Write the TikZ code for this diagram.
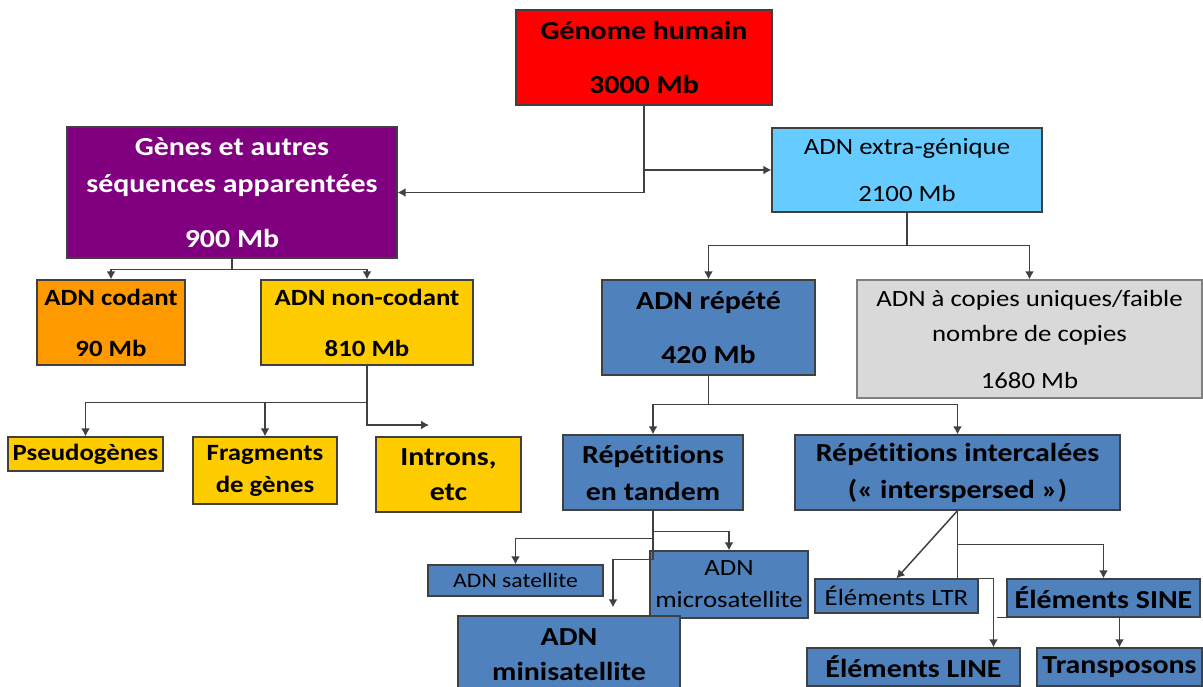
\documentclass[tikz,border=0pt]{standalone}
\usepackage{fontspec}
\setmainfont[FakeStretch=1.15,Ligatures=NoCommon]{Carlito}
\usetikzlibrary{arrows.meta,positioning}

\definecolor{rouge}{HTML}{FF0000}
\definecolor{ciel}{HTML}{66CCFF}
\definecolor{pourpre}{HTML}{800080}
\definecolor{orange2}{HTML}{FF9900}
\definecolor{jaune}{HTML}{FFCC00}
\definecolor{bleu}{HTML}{4F81BD}
\definecolor{gris}{HTML}{D9D9D9}

\begin{document}
\begin{tikzpicture}[x=1pt,y=-1pt,>={Latex[length=8pt,width=9pt]},
  box/.style={draw=black!75,line width=1.3pt,inner sep=0pt,align=center,text=black},
  bigtxt/.style={font=\fontsize{26}{35}\selectfont\bfseries},
  medtxt/.style={font=\fontsize{23.3}{32}\selectfont\bfseries},
  regtxt/.style={font=\fontsize{23.3}{32}\selectfont},
  smalltxt/.style={font=\fontsize{20.6}{28}\selectfont},
  link/.style={->,draw=black!75,line width=1.5pt}]

    \useasboundingbox (0,0) rectangle (1203,686);

    % The boxes
	\node [box,fill=rouge,bigtxt,minimum width=256,minimum height=95] at (644,57.5) (genome) {Génome humain\\[19pt]3000 Mb};
	\node [box,fill=ciel,regtxt,minimum width=270,minimum height=84] at (907,170) (extra) {ADN extra-génique\\[15pt]2100 Mb};
	\node [box,fill=pourpre,bigtxt,text=white,minimum width=330,minimum height=131] at (232,192.5) (genes) {Gènes et autres\\[2pt]séquences apparentées\\[20pt]900 Mb};

	\node [box,fill=orange2,medtxt,minimum width=148,minimum height=85] at (111,322.5) (codant) {ADN codant\\[19pt]90 Mb};
	\node [box,fill=jaune,medtxt,minimum width=212,minimum height=85] at (367,322.5) (noncodant) {ADN non-codant\\[19pt]810 Mb};
	\node [box,fill=jaune,medtxt,minimum width=155,minimum height=34] at (85.5,454) (pseudo) {Pseudogènes};
	\node [box,fill=jaune,medtxt,minimum width=144,minimum height=67] at (265,470.5) (fragments) {Fragments\\de gènes};
	\node [box,fill=jaune,bigtxt,minimum width=145,minimum height=75] at (448.5,474.5) (introns) {Introns,\\etc};
	\coordinate (intr) at (429,425);

	\node [box,fill=bleu,bigtxt,minimum width=213,minimum height=95] at (708.5,327.5) (repete) {ADN répété\\[19pt]420 Mb};
	\node [box,fill=gris,draw=black!50,regtxt,minimum width=345,minimum height=118] at (1029.5,339) (copies) {ADN à copies uniques/faible\\[3pt]nombre de copies\\[15pt]1680 Mb};

	\node [box,fill=bleu,bigtxt,minimum width=180,minimum height=75] at (653,472.5) (tandem) {Répétitions\\[2pt]en tandem};
	\node [box,fill=bleu,bigtxt,minimum width=325,minimum height=75] at (957.5,472.5) (intercal) {Répétitions intercalées\\[2pt](« interspersed »)};

	\node [box,fill=bleu,smalltxt,minimum width=175,minimum height=31] at (515.5,580.5) (satellite) {ADN satellite};
	\node [box,fill=bleu,regtxt,minimum width=158,minimum height=67] at (729,584.5) (micro) {ADN\\microsatellite};
	\node [box,fill=bleu,bigtxt,minimum width=222,minimum height=77] at (569,654.5) (mini) {ADN\\minisatellite};

	\node [box,fill=bleu,regtxt,minimum width=163,minimum height=34] at (896.5,596) (ltr) {Éléments LTR};
	\node [box,fill=bleu,bigtxt,minimum width=193,minimum height=38] at (1103.5,598) (sine) {Éléments SINE};
	\node [box,fill=bleu,bigtxt,minimum width=213,minimum height=38] at (913.5,667) (line) {Éléments LINE};
	\node [box,fill=bleu,bigtxt,minimum width=165,minimum height=38] at (1119.5,667) (trans) {Transposons};

	% Connectors
	\draw [link] (genome.south) |- (genes.east);
	\draw [link] (genome.south) |- (extra.west);

	\draw [link] (genes.south) -- ++(0,11) -| (codant.north);
	\draw [link] (genes.south) -- ++(0,11) -| (noncodant.north);
	\draw [link] (noncodant.south) -- ++(0,37) -| (pseudo.north);
	\draw [link] (noncodant.south) -- ++(0,37) -| (fragments.north);
	\draw [link] (noncodant.south) |- (intr);

	\draw [link] (extra.south) -- ++(0,33) -| (repete.north);
	\draw [link] (extra.south) -- ++(0,33) -| (copies.north);
	\draw [link] (repete.south) -- ++(0,29) -| (tandem.north);
	\draw [link] (repete.south) -- ++(0,29) -| (intercal.north);

	\draw [link] (tandem.south) -- ++(0,21) -| (micro.north);
	\draw [link] (tandem.south) -- ++(0,28) -| (satellite.north);
	\draw [link] (tandem.south) -- ++(0,49) -| ([xshift=44pt,yshift=8pt]mini.north);

	\draw [link] (intercal.south) -- (ltr.north);
	\draw [link] (intercal.south) -- ++(0,34) -| (sine.north);
	\draw [link] (intercal.south) -- ++(0,68) -| ([xshift=80pt]line.north);
	\draw [link] ([xshift=-9pt]sine.south west) -| (trans.north);

\end{tikzpicture}
\end{document}
